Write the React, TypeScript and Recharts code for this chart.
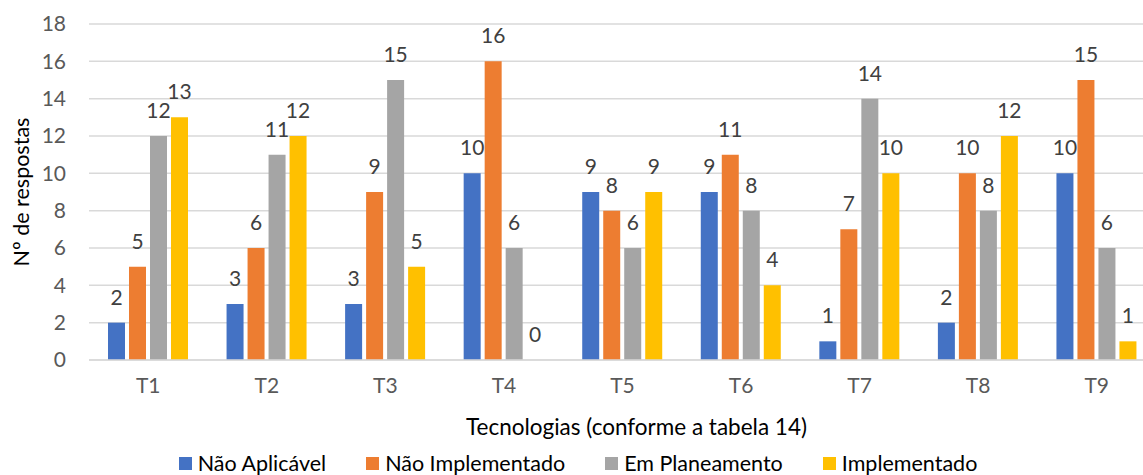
import React from 'react';
import { BarChart, Bar, XAxis, YAxis, CartesianGrid, LabelList, Legend, Label } from 'recharts';

const categories = ['T1', 'T2', 'T3', 'T4', 'T5', 'T6', 'T7', 'T8', 'T9'];
const naoAplicavel = [2, 3, 3, 10, 9, 9, 1, 2, 10];
const naoImplementado = [5, 6, 9, 16, 8, 11, 7, 10, 15];
const emPlaneamento = [12, 11, 15, 6, 6, 8, 14, 8, 6];
const implementado = [13, 12, 5, 0, 9, 4, 10, 12, 1];
const yTicks = [0, 2, 4, 6, 8, 10, 12, 14, 16, 18];

const series = [
  { key: 'na', name: 'Não Aplicável', color: '#4472C4', values: naoAplicavel },
  { key: 'ni', name: 'Não Implementado', color: '#ED7D31', values: naoImplementado },
  { key: 'ep', name: 'Em Planeamento', color: '#A5A5A5', values: emPlaneamento },
  { key: 'im', name: 'Implementado', color: '#FFC000', values: implementado },
];

const data = categories.map((c, i) => {
  const row: Record<string, any> = { cat: c };
  series.forEach((s) => (row[s.key] = s.values[i]));
  return row;
});

const FONT = 'Lato, "Open Sans", sans-serif';

const renderLegend = () => (
  <div
    style={{
      display: 'flex',
      justifyContent: 'center',
      alignItems: 'center',
      height: 30,
      fontFamily: FONT,
      fontSize: 21.5,
      color: '#000',
    }}
  >
    {series.map((s, i) => (
      <span
        key={s.key}
        style={{ display: 'inline-flex', alignItems: 'center', marginRight: i < series.length - 1 ? 40 : 0 }}
      >
        <span style={{ display: 'inline-block', width: 13, height: 13, background: s.color, marginRight: 6 }} />
        {s.name}
      </span>
    ))}
  </div>
);

const renderValueLabel = (props: any) => {
  const { x, y, width, value } = props;
  if (value === null || value === undefined) return null;
  return (
    <text
      x={Number(x) + Number(width) / 2}
      y={Number(y) - 18}
      textAnchor="middle"
      fill="#404040"
      fontSize={21}
      fontFamily={FONT}
    >
      {value}
    </text>
  );
};

export default function App() {
  return (
    <div style={{ position: 'absolute', left: 0, top: 0, width: 1143, height: 475, overflow: 'hidden', background: '#fff' }}>
      <BarChart
        width={1170}
        height={490}
        data={data}
        margin={{ top: 24, right: 14, bottom: 12, left: 0 }}
        barCategoryGap={19}
        barGap={4}
      >
        <CartesianGrid vertical={false} stroke="#D9D9D9" strokeWidth={1.5} />
        <XAxis
          dataKey="cat"
          height={88}
          axisLine={{ stroke: '#D9D9D9', strokeWidth: 1.5 }}
          tickLine={false}
          tickSize={0}
          tickMargin={18}
          tick={{ fill: '#595959', fontSize: 21, fontFamily: FONT }}
        >
          <Label
            content={(props: any) => {
              const vb = props.viewBox;
              return (
                <text
                  x={vb.x + vb.width / 2 + 14}
                  y={435}
                  textAnchor="middle"
                  fill="#000"
                  fontSize={22.5}
                  fontFamily={FONT}
                >
                  Tecnologias (conforme a tabela 14)
                </text>
              );
            }}
          />
        </XAxis>
        <YAxis
          width={89}
          domain={[0, 18]}
          ticks={yTicks}
          interval={0}
          axisLine={false}
          tickLine={false}
          tickSize={0}
          tickMargin={23}
          tick={{ fill: '#595959', fontSize: 21, fontFamily: FONT }}
        >
          <Label
            content={(props: any) => {
              const vb = props.viewBox;
              const cy = vb.y + vb.height / 2;
              return (
                <text
                  x={29}
                  y={cy}
                  transform={`rotate(-90, 29, ${cy})`}
                  textAnchor="middle"
                  fill="#000"
                  fontSize={21.5}
                  fontFamily={FONT}
                >
                  Nº de respostas
                </text>
              );
            }}
          />
        </YAxis>
        <Legend verticalAlign="bottom" content={renderLegend} />
        {series.map((s) => (
          <Bar
            key={s.key}
            dataKey={s.key}
            name={s.name}
            fill={s.color}
            minPointSize={0.01}
            isAnimationActive={false}
          >
            <LabelList dataKey={s.key} content={renderValueLabel} />
          </Bar>
        ))}
      </BarChart>
    </div>
  );
}
